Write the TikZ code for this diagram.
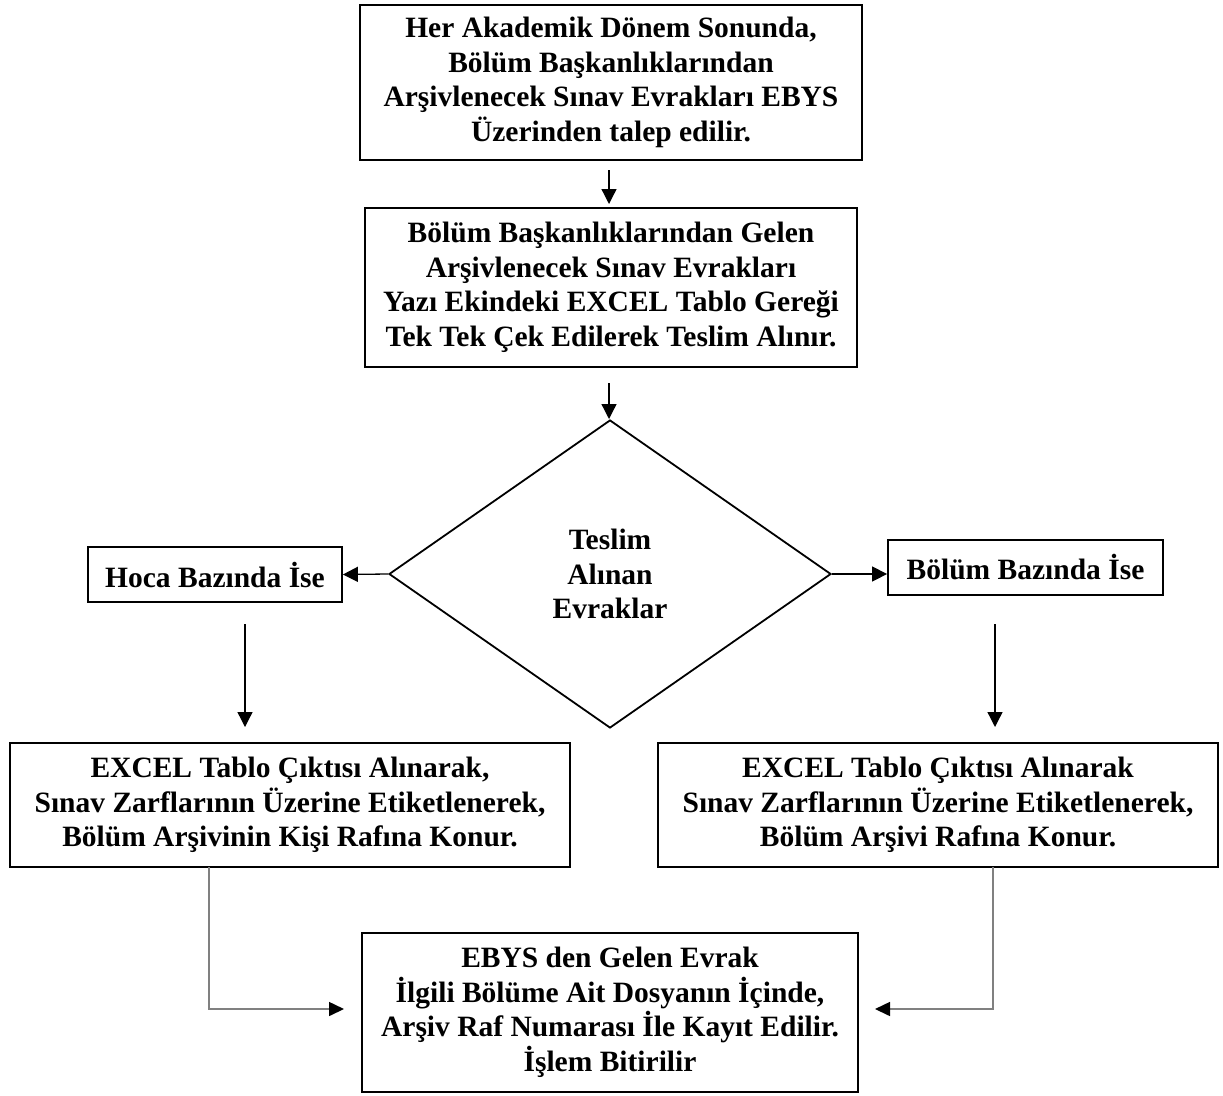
\documentclass[tikz,border=0pt]{standalone}
\usepackage{fontspec}
\setmainfont{Liberation Serif}
\usetikzlibrary{arrows.meta,shapes.geometric}
\begin{document}
\begin{tikzpicture}[x=1pt,y=-1pt,
  box/.style={draw,line width=1.8pt,align=center,inner sep=0pt,
    font=\bfseries\fontsize{29.5}{34.5}\selectfont},
  arr/.style={line width=1.3pt,-{Triangle[length=15pt,width=15pt]}},
  elbow/.style={draw=black!50,line width=1.6pt,-{Triangle[length=15pt,width=14pt,color=black]}}]
\useasboundingbox (0,0) rectangle (1223,1095);

\node[box,minimum width=502pt,minimum height=155pt] (b1) at (611,82.5)
  {Her Akademik Dönem Sonunda,\\Bölüm Başkanlıklarından\\Arşivlenecek Sınav Evrakları EBYS\\Üzerinden talep edilir.};
\node[box,minimum width=492pt,minimum height=159pt] (b2) at (611,287.5)
  {Bölüm Başkanlıklarından Gelen\\Arşivlenecek Sınav Evrakları\\Yazı Ekindeki EXCEL Tablo Gereği\\Tek Tek Çek Edilerek Teslim Alınır.};
\node[box,diamond,minimum width=442pt,minimum height=308pt,aspect=1.435] (d) at (610,574)
  {Teslim\\Alınan\\Evraklar};
\node[box,minimum width=254pt,minimum height=55pt] (hoca) at (215,574.5) {Hoca Bazında İse};
\node[box,minimum width=275pt,minimum height=55pt] (bolum) at (1025.5,567.5) {Bölüm Bazında İse};
\node[box,minimum width=560pt,minimum height=124pt] (l3) at (290,805)
  {EXCEL Tablo Çıktısı Alınarak,\\Sınav Zarflarının Üzerine Etiketlenerek,\\Bölüm Arşivinin Kişi Rafına Konur.};
\node[box,minimum width=560pt,minimum height=124pt] (r3) at (938,805)
  {EXCEL Tablo Çıktısı Alınarak\\Sınav Zarflarının Üzerine Etiketlenerek,\\Bölüm Arşivi Rafına Konur.};
\node[box,minimum width=496pt,minimum height=159pt] (fin) at (610,1012.5)
  {EBYS den Gelen Evrak\\İlgili Bölüme Ait Dosyanın İçinde,\\Arşiv Raf Numarası İle Kayıt Edilir.\\İşlem Bitirilir};

% free ends of the short vertical arrows
\coordinate (a1s) at (609,170);  \coordinate (a1e) at (609,204);
\coordinate (a2s) at (609,383);  \coordinate (a2e) at (609,419);
\coordinate (a3s) at (245,624);  \coordinate (a3e) at (245,727);
\coordinate (a4s) at (995,624);  \coordinate (a4e) at (995,727);
\coordinate (e1s) at (209,867);  \coordinate (e1e) at (344,1009);
\coordinate (e2s) at (993,867);  \coordinate (e2e) at (875,1009);

\draw[arr] (a1s) -- (a1e);
\draw[arr] (a2s) -- (a2e);
\draw[arr] (d.west) -- (hoca.east);
\draw[arr] (d.east) -- (bolum.west |- d.east);
\draw[arr] (a3s) -- (a3e);
\draw[arr] (a4s) -- (a4e);
\draw[elbow] (e1s) |- (e1e);
\draw[elbow] (e2s) |- (e2e);
\end{tikzpicture}
\end{document}
